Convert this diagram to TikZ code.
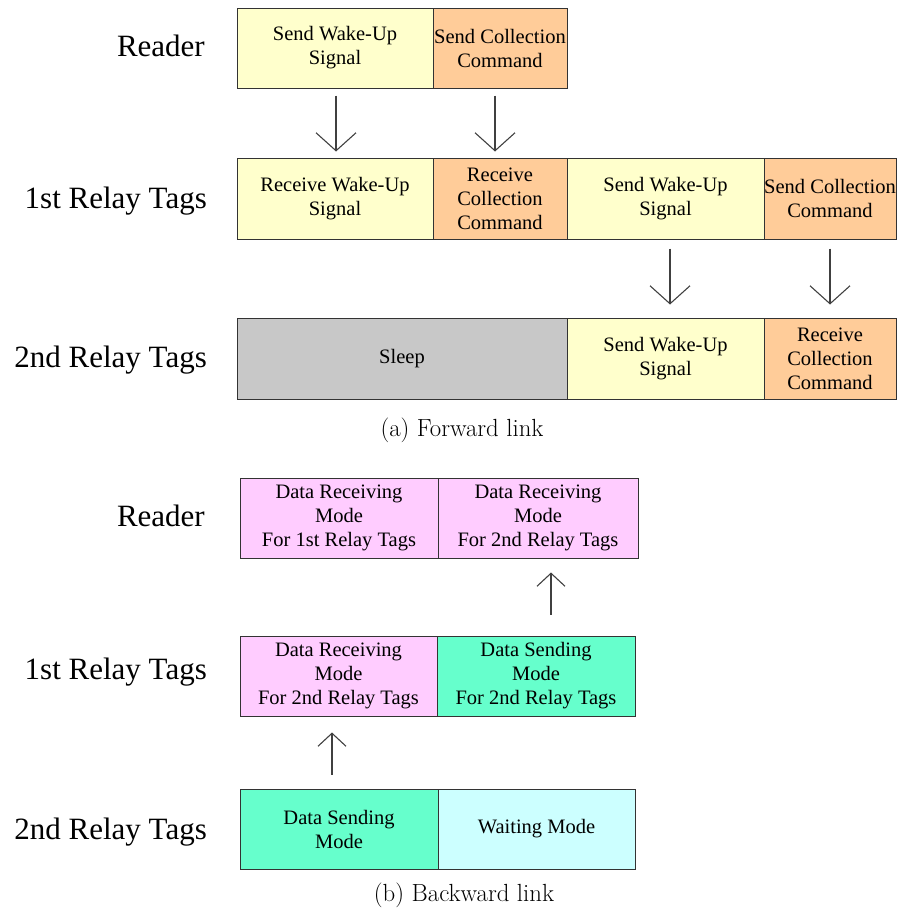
\documentclass[tikz,border=0pt]{standalone}
\usepackage{fontspec}
\newfontfamily\slotfont{Liberation Serif}
\usepackage{tikz}
\usetikzlibrary{arrows.meta}
\definecolor{wakeyellow}{HTML}{FFFFCC}
\definecolor{cmdorange}{HTML}{FFCC99}
\definecolor{sleepgray}{HTML}{C8C8C8}
\definecolor{recvpink}{HTML}{FFCCFF}
\definecolor{sendgreen}{HTML}{66FFCC}
\definecolor{waitcyan}{HTML}{CCFFFF}
\tikzset{
  slot/.style={ draw=black!80, line width=1pt, inner sep=0pt, align=center,
    font=\slotfont\fontsize{20.5}{24}\selectfont }
}
\tikzset{
  slotW/.style={ slot, fill=wakeyellow }
}
\tikzset{
  slotC/.style={ slot, fill=cmdorange }
}
\tikzset{
  slotS/.style={ slot, fill=sleepgray }
}
\tikzset{
  slotR/.style={ slot, fill=recvpink }
}
\tikzset{
  slotD/.style={ slot, fill=sendgreen }
}
\tikzset{
  slotM/.style={ slot, fill=waitcyan }
}
\tikzset{
  rowlab/.style={ anchor=base east, inner sep=0pt, font=\slotfont\fontsize{31}{36}\selectfont }
}
\tikzset{
  caplab/.style={ anchor=base, inner sep=0pt, font=\fontsize{24.8}{29}\selectfont }
}
\tikzset{
  fwd/.style={ draw=black!75, line width=1.1pt, -{Straight Barb[length=18pt,width=40pt]} }
}
\tikzset{
  bwd/.style={ draw=black!75, line width=1.1pt, -{Straight Barb[length=13pt,width=28pt]} }
}
\begin{document}
\begin{tikzpicture}[x=1pt, y=-1pt]
      \useasboundingbox (0, 0) rectangle (897, 910);
      % (a) forward link
      \node[rowlab] (fReader) at (205, 56) {Reader};
      \node[rowlab] (fFirst) at (207, 208) {1st Relay Tags};
      \node[rowlab] (fSecond) at (207, 367) {2nd Relay Tags};
      \node[slotW, minimum width=196pt, minimum height=80pt] (rWake) at (335, 48) {Send Wake-Up\\Signal};
      \node[slotC, minimum width=134pt, minimum height=80pt] (rCmd) at (500, 48) {Send Collection\\Command};
      \node[slotW, minimum width=196pt, minimum height=81pt] (aRecvWake) at (335, 198.5) {Receive Wake-Up\\Signal};
      \node[slotC, minimum width=134pt, minimum height=81pt] (aRecvCmd) at (500, 198.5) {Receive\\Collection\\Command};
      \node[slotW, minimum width=197pt, minimum height=81pt] (aSendWake) at (665.5, 198.5) {Send Wake-Up\\Signal};
      \node[slotC, minimum width=132pt, minimum height=81pt] (aSendCmd) at (830, 198.5) {Send Collection\\Command};
      \node[slotS, minimum width=330pt, minimum height=81pt] (bSleep) at (402, 358.5) {Sleep};
      \node[slotW, minimum width=197pt, minimum height=81pt] (bSendWake) at (665.5, 358.5) {Send Wake-Up\\Signal};
      \node[slotC, minimum width=132pt, minimum height=81pt] (bRecvCmd) at (830, 358.5) {Receive\\Collection\\Command};
      \draw[fwd] ([xshift=1pt, yshift=-7pt]rWake.south) -- ([xshift=1pt, yshift=6pt]aRecvWake.north);
      \draw[fwd] ([xshift=-5pt, yshift=-7pt]rCmd.south) -- ([xshift=-5pt, yshift=6pt]aRecvCmd.north);
      \draw[fwd] ([xshift=4.5pt, yshift=-9pt]aSendWake.south) -- ([xshift=4.5pt, yshift=13pt]bSendWake.north);
      \draw[fwd] ([yshift=-9pt]aSendCmd.south) -- ([yshift=13pt]bRecvCmd.north);
      \node[caplab] (capA) at (462, 436) {(a) Forward link};
      % (b) backward link
      \node[rowlab] (bReader) at (205, 526) {Reader};
      \node[rowlab] (bFirst) at (207, 679) {1st Relay Tags};
      \node[rowlab] (bSecond) at (207, 839) {2nd Relay Tags};
      \node[slotR, minimum width=198pt, minimum height=80pt] (rDataRecv1) at (339, 518) {Data Receiving\\Mode\\For 1st Relay Tags};
      \node[slotR, minimum width=200pt, minimum height=80pt] (rDataRecv2) at (538, 518) {Data Receiving\\Mode\\For 2nd Relay Tags};
      \node[slotR, minimum width=197pt, minimum height=80pt] (aDataRecv) at (338.5, 676) {Data Receiving\\Mode\\For 2nd Relay Tags};
      \node[slotD, minimum width=198pt, minimum height=80pt] (aDataSend) at (536, 676) {Data Sending\\Mode\\For 2nd Relay Tags};
      \node[slotD, minimum width=198pt, minimum height=80pt] (bDataSend) at (339, 829) {Data Sending\\Mode};
      \node[slotM, minimum width=197pt, minimum height=80pt] (bWait) at (536.5, 829) {Waiting Mode};
      \draw[bwd] ([xshift=15pt, yshift=21pt]aDataSend.north) -- ([xshift=13pt, yshift=-14pt]rDataRecv2.south);
      \draw[bwd] ([xshift=-7pt, yshift=14pt]bDataSend.north) -- ([xshift=-6.5pt, yshift=-16pt]aDataRecv.south);
      \node[caplab] (capB) at (464, 901) {(b) Backward link};
    \end{tikzpicture}
\end{document}
